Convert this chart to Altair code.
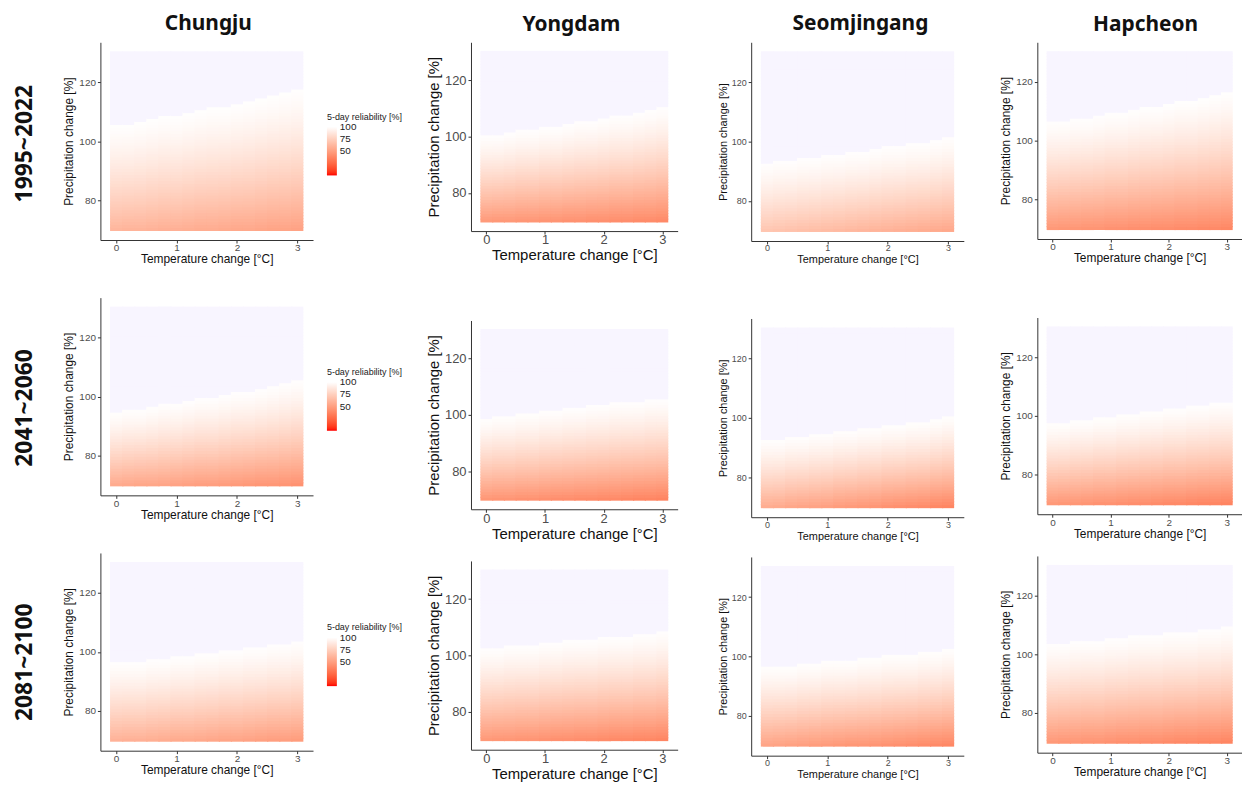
import altair as alt
import pandas as pd

RESERVOIRS = ["Chungju", "Yongdam", "Seomjingang", "Hapcheon"]
PERIODS = ["1995~2022", "2041~2060", "2081~2100"]
TEMP_CHANGE = [0.0, 0.2, 0.4, 0.6, 0.8, 1.0, 1.2, 1.4, 1.6, 1.8, 2.0, 2.2, 2.4, 2.6, 2.8, 3.0]
PRECIP_CHANGE = list(range(70, 131))

# lowest precipitation change [%] at which the 5-day reliability is 100 %, per temperature step
LIMIT_1995_2022 = [
    [106, 106, 107, 108, 109, 109, 110, 111, 112, 112, 113, 114, 115, 116, 117, 118],
    [101, 101, 102, 103, 103, 104, 104, 105, 106, 106, 107, 108, 108, 109, 110, 111],
    [93, 94, 94, 95, 95, 96, 96, 97, 97, 98, 99, 99, 100, 100, 101, 102],
    [107, 107, 108, 108, 109, 110, 110, 111, 112, 112, 113, 114, 114, 115, 116, 117],
]
LIMIT_2041_2060 = [
    [95, 96, 96, 97, 98, 98, 99, 100, 100, 101, 102, 102, 103, 104, 105, 106],
    [99, 100, 100, 101, 101, 102, 102, 103, 103, 104, 104, 105, 105, 105, 106, 106],
    [93, 93, 94, 94, 95, 95, 96, 96, 97, 97, 98, 98, 99, 99, 100, 101],
    [98, 98, 99, 99, 100, 100, 101, 101, 102, 102, 103, 103, 104, 104, 105, 105],
]
LIMIT_2081_2100 = [
    [97, 97, 97, 98, 98, 99, 99, 100, 100, 101, 101, 102, 102, 103, 103, 104],
    [103, 103, 104, 104, 104, 105, 105, 106, 106, 106, 107, 107, 107, 108, 108, 109],
    [97, 97, 97, 98, 98, 99, 99, 99, 100, 100, 101, 101, 101, 102, 102, 103],
    [104, 104, 105, 105, 105, 106, 106, 107, 107, 107, 108, 108, 108, 109, 109, 110],
]

# 5-day reliability [%] at a precipitation change of 70 %, per temperature step
LOW_1995_2022 = [
    [62, 61, 61, 60, 59, 59, 58, 57, 57, 56, 55, 55, 54, 53, 53, 52],
    [48, 47, 47, 46, 46, 45, 45, 44, 44, 43, 43, 42, 42, 41, 41, 40],
    [70, 69, 68, 67, 66, 65, 64, 63, 62, 61, 60, 59, 58, 57, 56, 55],
    [47, 46, 46, 45, 45, 44, 44, 43, 43, 42, 42, 41, 41, 40, 40, 39],
]
LOW_2041_2060 = [
    [56, 55, 54, 54, 53, 52, 51, 50, 50, 49, 48, 47, 46, 46, 45, 44],
    [46, 45, 45, 44, 44, 43, 42, 42, 41, 41, 40, 40, 39, 38, 38, 37],
    [57, 56, 54, 53, 52, 51, 49, 48, 47, 46, 44, 43, 42, 41, 39, 38],
    [47, 46, 46, 45, 44, 44, 43, 42, 42, 41, 40, 40, 39, 38, 38, 37],
]
LOW_2081_2100 = [
    [60, 59, 59, 58, 57, 56, 56, 55, 54, 53, 53, 52, 51, 50, 50, 49],
    [47, 46, 46, 45, 45, 44, 43, 43, 42, 42, 41, 40, 40, 39, 39, 38],
    [53, 52, 51, 50, 49, 48, 47, 46, 46, 45, 44, 43, 42, 41, 40, 39],
    [47, 46, 46, 45, 45, 44, 43, 43, 42, 42, 41, 40, 40, 39, 39, 38],
]

LIMITS = [LIMIT_1995_2022, LIMIT_2041_2060, LIMIT_2081_2100]
LOWS = [LOW_1995_2022, LOW_2041_2060, LOW_2081_2100]
SHAPE = 1.4  # curvature of the drop of reliability below the 100 % limit

rows = []
for pi in range(len(PERIODS)):
    for ri in range(len(RESERVOIRS)):
        for ti, t in enumerate(TEMP_CHANGE):
            lim = LIMITS[pi][ri][ti]
            low = LOWS[pi][ri][ti]
            for p in PRECIP_CHANGE:
                if p >= lim:
                    r = 100.0
                else:
                    frac = (lim - p) / (lim - 70)
                    r = 100.0 - (100.0 - low) * frac ** SHAPE
                rows.append({"period": pi, "res": ri, "T": t, "P": p, "R": round(r, 2)})
df = pd.DataFrame(rows)

LAVENDER = "#f8f5ff"
AX_FONT = "Liberation Sans"
HEAD_FONT = "Noto Sans"

# per-column styling
STYLE = {
    "Chungju": dict(w=214, h=199, tfs=10, afs=12, dx=0, toff=8),
    "Yongdam": dict(w=208, h=190, tfs=13, afs=15, dx=-3, toff=7),
    "Seomjingang": dict(w=214, h=200, tfs=9, afs=11, dx=3, toff=8),
    "Hapcheon": dict(w=206, h=198, tfs=10, afs=12, dx=6, toff=7),
}
ROW_SHIFT = [-2.5, -11.5, -10.5]


def panel(pi, ri, top_title=False, row_title=False):
    name = RESERVOIRS[ri]
    st = STYLE[name]
    legend = None
    if ri == 0:
        legend = alt.Legend(
            orient="none", legendX=228, legendY=71, direction="vertical",
            title="5-day reliability [%]", titleFontSize=9, titleFont=AX_FONT,
            titleFontWeight="normal", titleColor="#222", titlePadding=5,
            labelFontSize=10, labelFont=AX_FONT, labelColor="#222", labelOffset=3,
            gradientLength=49, gradientThickness=10, gradientStrokeWidth=0,
            values=[100, 75, 50], labelOverlap=False,
        )
    cscale = alt.Scale(domain=[0, 100.5], range=["#ff0000", "#ffffff"], interpolate="lab")
    color = alt.condition(
        alt.datum.R >= 100,
        alt.value(LAVENDER),
        alt.Color("R:Q", scale=cscale, legend=legend),
    )
    axis_common = dict(
        grid=False, domainColor="#333", domainWidth=1, tickColor="#333", tickSize=3,
        labelFont=AX_FONT, labelFontSize=st["tfs"], labelColor="#4d4d4d",
        titleFont=AX_FONT, titleFontSize=st["afs"], titleColor="#111",
        titleFontWeight="normal",
    )
    ch = (
        alt.Chart()
        .mark_rect()
        .transform_filter(f"datum.period == {pi} && datum.res == {ri}")
        .transform_calculate(
            x0="datum.T - 0.1", x1="min(datum.T + 0.12, 3.1)",
            y0="datum.P - 0.5", y1="min(datum.P + 0.9, 130.5)",
        )
        .encode(
            x=alt.X("x0:Q", scale=alt.Scale(domain=[-0.26, 3.26], nice=False, zero=False),
                    axis=alt.Axis(values=[0, 1, 2, 3], format="d", labelPadding=0,
                                  titlePadding=1, title="Temperature change [°C]",
                                  **axis_common)),
            x2="x1:Q",
            y=alt.Y("y0:Q", scale=alt.Scale(domain=[66.45, 133.55], nice=False, zero=False),
                    axis=alt.Axis(values=[80, 100, 120], format="d", labelPadding=2,
                                  titlePadding=3, title="Precipitation change [%]",
                                  **axis_common)),
            y2="y1:Q",
            color=color,
        )
    )
    props = dict(width=st["w"], height=st["h"])
    if top_title:
        props["title"] = alt.Title(name, anchor="middle", frame="group", fontSize=21,
                                   fontWeight="bold", font=HEAD_FONT, color="#111",
                                   offset=st["toff"], dx=st["dx"])
    if row_title:
        props["title"] = alt.Title(PERIODS[pi], orient="left", anchor="middle", frame="group",
                                   fontSize=23, fontWeight="bold", font=HEAD_FONT,
                                   color="#111", offset=26, dx=ROW_SHIFT[pi])
    return ch.properties(**props)


def ind(c):
    return c.resolve_scale(x="independent", y="independent", color="independent")


chungju = ind(alt.vconcat(
    panel(0, 0, row_title=True), panel(1, 0, row_title=True), panel(2, 0, row_title=True),
    spacing=33,
    title=alt.Title("Chungju", anchor="middle", fontSize=21, fontWeight="bold",
                    font=HEAD_FONT, color="#111", offset=STYLE["Chungju"]["toff"]),
))


def column(ri, s12, s23):
    return ind(alt.vconcat(
        panel(0, ri, top_title=True),
        ind(alt.vconcat(panel(1, ri), panel(2, ri), spacing=s23)),
        spacing=s12,
    ))


yongdam = column(1, 58, 20)
seom = column(2, 54, 16)
hap = column(3, 54, 17)

chart = ind(alt.hconcat(
    chungju,
    ind(alt.hconcat(yongdam, ind(alt.hconcat(seom, hap, spacing=36)), spacing=39)),
    spacing=24,
    data=df,
)).properties(padding={"left": 6, "top": 3, "right": 0, "bottom": 0}).configure_view(
    strokeWidth=0, stroke=None
)

chart.save("out.html", embed_options={"renderer": "svg", "actions": False})
